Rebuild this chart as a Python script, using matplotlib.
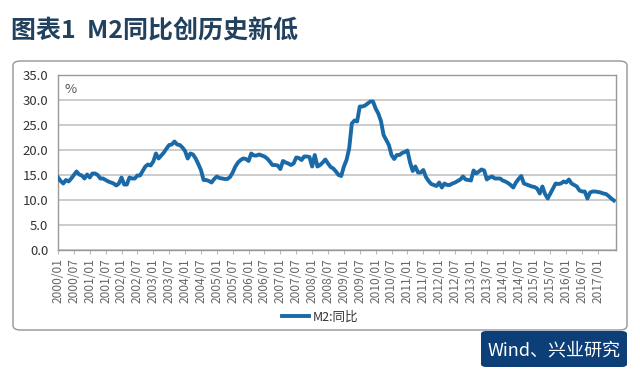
import matplotlib
matplotlib.use("Agg")
import matplotlib.pyplot as plt
from matplotlib.patches import FancyBboxPatch
import numpy as np

plt.rcParams['font.family'] = ['Noto Sans CJK SC', 'DejaVu Sans']

# Monthly M2 YoY (%), 2000/01 - 2017/07
m2_2000 = [14.5, 13.8, 13.3, 14.0, 13.7, 14.3, 15.0, 15.7, 15.1, 14.9, 14.3, 15.1]
m2_2001 = [14.5, 15.3, 15.3, 15.0, 14.3, 14.3, 14.0, 13.7, 13.5, 13.3, 12.9, 13.3]
m2_2002 = [14.5, 13.1, 13.1, 14.5, 14.3, 14.3, 14.9, 14.9, 15.8, 16.7, 17.1, 16.9]
m2_2003 = [17.7, 19.3, 18.3, 18.9, 19.5, 20.3, 21.0, 21.1, 21.7, 21.1, 21.0, 20.5]
m2_2004 = [19.8, 18.3, 19.3, 19.1, 18.3, 17.2, 16.0, 14.0, 14.0, 13.8, 13.5, 14.2]
m2_2005 = [14.7, 14.4, 14.3, 14.2, 14.2, 14.6, 15.5, 16.7, 17.5, 18.0, 18.3, 18.2]
m2_2006 = [17.8, 19.3, 18.9, 18.9, 19.1, 18.9, 18.7, 18.3, 17.7, 17.0, 17.0, 16.9]
m2_2007 = [16.2, 17.8, 17.5, 17.3, 17.0, 17.3, 18.5, 18.4, 18.0, 18.7, 18.7, 18.6]
m2_2008 = [16.7, 19.0, 16.7, 17.0, 17.5, 18.1, 17.3, 16.6, 16.3, 15.7, 15.0, 14.8]
m2_2009 = [16.7, 18.0, 20.3, 25.3, 25.9, 25.7, 28.7, 28.7, 28.9, 29.3, 29.7, 29.7]
m2_2010 = [28.3, 27.3, 25.8, 23.0, 22.0, 21.0, 19.0, 18.2, 19.0, 19.0, 19.4, 19.6]
m2_2011 = [19.9, 17.5, 15.8, 16.7, 15.5, 15.5, 16.0, 14.6, 13.8, 13.2, 13.0, 12.8]
m2_2012 = [13.5, 12.5, 13.3, 13.0, 13.0, 13.3, 13.5, 13.8, 14.1, 14.7, 14.1, 14.0]
m2_2013 = [13.9, 15.9, 15.3, 15.7, 16.1, 15.9, 14.1, 14.5, 14.7, 14.3, 14.3, 14.3]
m2_2014 = [13.9, 13.7, 13.4, 13.0, 12.5, 13.5, 14.2, 14.8, 13.3, 13.1, 12.9, 12.7]
m2_2015 = [12.6, 12.3, 11.3, 12.7, 11.2, 10.3, 11.3, 12.3, 13.3, 13.2, 13.3, 13.7]
m2_2016 = [13.5, 14.1, 13.3, 13.0, 12.7, 11.9, 11.7, 11.7, 10.3, 11.5, 11.7, 11.7]
m2_2017 = [11.6, 11.5, 11.3, 11.2, 10.8, 10.3, 9.9]

m2_yoy = (m2_2000 + m2_2001 + m2_2002 + m2_2003 + m2_2004 + m2_2005 + m2_2006
          + m2_2007 + m2_2008 + m2_2009 + m2_2010 + m2_2011 + m2_2012 + m2_2013
          + m2_2014 + m2_2015 + m2_2016 + m2_2017)

tick_labels = [f"{y}/{mm}" for y in range(2000, 2018) for mm in ("01", "07")][:35]
y_ticks = [0, 5, 10, 15, 20, 25, 30, 35]

title_text = "图表1  M2同比创历史新低"
series_name = "M2:同比"
source_text = "Wind、兴业研究"

W, H = 640, 375
fig = plt.figure(figsize=(W / 100, H / 100), dpi=100)
fig.patch.set_facecolor('white')

def fx(px):
    return px / W

def fy(py):
    return 1 - py / H

# outer rounded frame
frame = FancyBboxPatch((fx(13), fy(330)), fx(614), (330 - 61) / H,
                       boxstyle="round,pad=0,rounding_size=0.012",
                       transform=fig.transFigure, facecolor='white',
                       edgecolor='#8c979e', linewidth=1.0, zorder=-5)
fig.patches.append(frame)

# source box
src = FancyBboxPatch((fx(481), fy(367)), fx(146), (367 - 331) / H,
                     boxstyle="round,pad=0,rounding_size=0.008",
                     transform=fig.transFigure, facecolor='#0c3e78',
                     edgecolor='none', zorder=-4)
fig.patches.append(src)
fig.text(fx(554), fy(350), source_text, color='white', fontsize=13,
         ha='center', va='center', zorder=2)

# title
fig.text(fx(11), fy(31), title_text, color='#21415f', fontsize=18,
         fontweight='bold', ha='left', va='center')

ax = fig.add_axes([fx(58), fy(250), fx(616 - 58), (250 - 75) / H])
ax.set_zorder(2)
x = np.arange(len(m2_yoy))
line, = ax.plot(x, m2_yoy, color='#1b6aa8', linewidth=2.8,
                solid_joinstyle='round', zorder=3)

ax.set_xlim(0, 210.8)
ax.set_ylim(0, 35)
ax.set_yticks(y_ticks)
ax.set_yticklabels([f"{v:.1f}" for v in y_ticks], fontsize=9.5, color='#333333')
ax.set_xticks(np.arange(0, 6 * len(tick_labels), 6))
ax.set_xticklabels(tick_labels, rotation=90, fontsize=8.6, color='#666666',
                   va='top', ha='center')
ax.tick_params(axis='y', length=0, pad=7)
ax.tick_params(axis='x', length=3, color='#bbbbbb', pad=3)
ax.grid(axis='y', color='#cccccc', linewidth=1.4)
ax.set_axisbelow(True)
for s in ax.spines.values():
    s.set_color('#999999')
    s.set_linewidth(1.0)

ax.text(0.012, 0.955, '%', transform=ax.transAxes, fontsize=9.5,
        color='#555555', ha='left', va='top')

leg = fig.legend([line], [series_name], loc='center',
                 bbox_to_anchor=(fx(320), fy(317)), frameon=False,
                 fontsize=9, handlelength=2.2, handletextpad=0.3)
for t in leg.get_texts():
    t.set_color('#333333')

fig.savefig('out.png', dpi=100, facecolor='white')
